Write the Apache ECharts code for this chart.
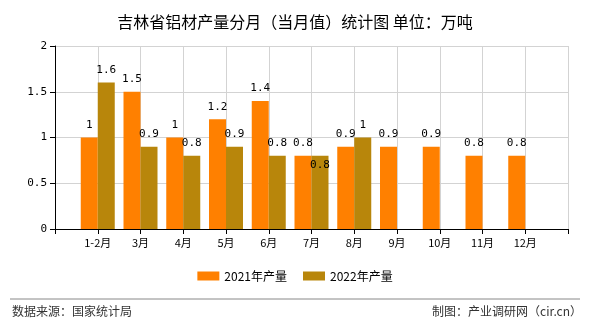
<!DOCTYPE html>
<html><head><meta charset="utf-8">
<script src="https://cdn.jsdelivr.net/npm/echarts@6/dist/echarts.min.js"></script>
<style>html,body{margin:0;padding:0;background:#fff}#c{width:590px;height:330px}</style>
</head><body><div id="c"></div>
<script>
const categories = ['', '1-2月', '3月', '4月', '5月', '6月', '7月', '8月', '9月', '10月', '11月', '12月', ''];
const series2021 = [null, 1, 1.5, 1, 1.2, 1.4, 0.8, 0.9, 0.9, 0.9, 0.8, 0.8, null];
const series2022 = [null, 1.6, 0.9, 0.8, 0.9, 0.8, 0.8, 1, null, null, null, null, null];
const yTicks = [0, 0.5, 1, 1.5, 2];
const seriesNames = ['2021年产量', '2022年产量'];
const titleText = '吉林省铝材产量分月（当月值）统计图 单位：万吨';
const sourceText = '数据来源：国家统计局';
const makerText = '制图：产业调研网（cir.cn）';

const labelFont = {color: '#000', fontSize: 11, fontFamily: 'DejaVu Sans Mono'};
const chart = echarts.init(document.getElementById('c'), null, {renderer: 'canvas'});
// index 6 (7月) of 2022 label drawn inside bar in reference
const data2022 = series2022.map((v, i) => i === 6 ? {value: v, label: {position: 'insideTop', distance: 4}} : v);
chart.setOption({
  animation: false,
  title: {text: titleText, left: 'center', top: 9,
    textStyle: {fontSize: 16, fontWeight: 'normal', color: '#000', fontFamily: 'Noto Sans CJK SC'}},
  legend: {data: seriesNames, bottom: 43, left: 'center', itemWidth: 22, itemHeight: 9, itemGap: 16,
    icon: 'rect', textStyle: {fontSize: 12, color: '#000', fontFamily: 'Noto Sans CJK SC'}},
  grid: {left: 55, right: 22, top: 46, bottom: 101},
  xAxis: {type: 'category', data: categories, boundaryGap: false,
    axisLine: {lineStyle: {color: '#000'}},
    axisTick: {show: true, length: 5, lineStyle: {color: '#000'}},
    axisLabel: {color: '#000', fontSize: 11, margin: 8, fontFamily: 'Noto Sans CJK SC', interval: 0},
    splitLine: {show: true, lineStyle: {color: '#d3d3d3'}}},
  yAxis: {type: 'value', min: yTicks[0], max: yTicks[yTicks.length - 1], interval: 0.5,
    axisLine: {show: true, lineStyle: {color: '#000'}},
    axisTick: {show: true, length: 5, lineStyle: {color: '#000'}},
    axisLabel: {color: '#000', fontSize: 11, margin: 8, fontFamily: 'DejaVu Sans Mono'},
    splitLine: {show: true, lineStyle: {color: '#d3d3d3'}}},
  series: [
    {name: seriesNames[0], type: 'bar', data: series2021, barWidth: 17, barGap: '0%',
      itemStyle: {color: '#FF8000'},
      label: {show: true, position: 'top', distance: 7, ...labelFont}},
    {name: seriesNames[1], type: 'bar', data: data2022, barWidth: 17, barGap: '0%',
      itemStyle: {color: '#B8860B'},
      label: {show: true, position: 'top', distance: 7, ...labelFont}}
  ],
  graphic: [
    {type: 'line', shape: {x1: 10, y1: 299, x2: 580, y2: 299}, style: {stroke: '#888', lineWidth: 1}},
    {type: 'text', left: 12, top: 305, style: {text: sourceText, fontSize: 12, fill: '#333', fontFamily: 'Noto Sans CJK SC'}},
    {type: 'text', right: 8, top: 305, style: {text: makerText, fontSize: 12, fill: '#333', fontFamily: 'Noto Sans CJK SC'}}
  ]
});
</script></body></html>
